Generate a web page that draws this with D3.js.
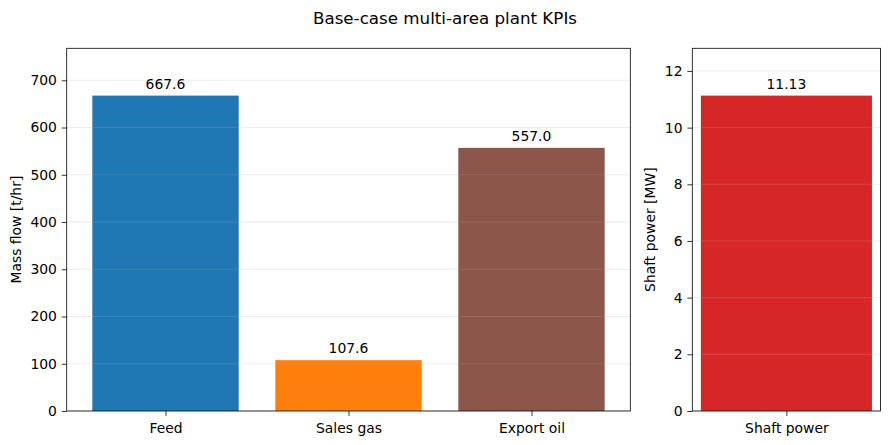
<script src="https://d3js.org/d3.v7.min.js"></script>
<body style="margin:0;background:#fff">
<script>
  // mass flow panel
  const flowCats = ["Feed", "Sales gas", "Export oil"];
  const flowVals = [667.6, 107.6, 557.0];
  const flowColors = ["#1f77b4", "#ff7f0e", "#8c564b"];
  const flowTicks = [0, 100, 200, 300, 400, 500, 600, 700];

  // shaft power panel
  const powerCats = ["Shaft power"];
  const powerVals = [11.13];
  const powerColors = ["#d62728"];
  const powerTicks = [0, 2, 4, 6, 8, 10, 12];

  const W = 889, H = 445;
  const font = "DejaVu Sans, sans-serif";

  const svg = d3.select("body").append("svg")
    .attr("width", W).attr("height", H)
    .style("font-family", font);

  svg.append("text")
    .attr("x", 445).attr("y", 24.3)
    .attr("text-anchor", "middle")
    .attr("font-size", "16.7px")
    .attr("fill", "#000")
    .text("Base-case multi-area plant KPIs");

  function panel(x0, x1, y0, y1, cats, vals, colors, ticks, ylabel, fmt, labelX) {
    const g = svg.append("g");
    // matplotlib-like x range: bars of width 0.8 with 5% margin
    const span = (cats.length - 1) + 0.8;
    const pad = span * 0.05;
    const x = d3.scaleLinear()
      .domain([-0.4 - pad, cats.length - 1 + 0.4 + pad])
      .range([x0, x1]);
    const y = d3.scaleLinear()
      .domain([0, d3.max(vals) * 1.15])
      .range([y1, y0]);

    g.selectAll("rect.bar")
      .data(vals)
      .enter()
      .append("rect")
      .attr("class", "bar")
      .attr("x", (d, i) => x(i - 0.4))
      .attr("width", (d, i) => x(i + 0.4) - x(i - 0.4))
      .attr("y", d => y(d))
      .attr("height", d => y(0) - y(d))
      .attr("fill", (d, i) => colors[i]);

    // grid drawn above the bars, semi transparent
    g.selectAll("line.grid")
      .data(ticks)
      .enter()
      .append("line")
      .attr("x1", x0).attr("x2", x1)
      .attr("y1", d => y(d)).attr("y2", d => y(d))
      .attr("stroke", "#b0b0b0")
      .attr("stroke-opacity", 0.3)
      .attr("stroke-width", 0.8);

    g.selectAll("text.val")
      .data(vals)
      .enter()
      .append("text")
      .attr("x", (d, i) => x(i))
      .attr("y", d => y(d) - 7)
      .attr("text-anchor", "middle")
      .attr("font-size", "13.9px")
      .text(d => fmt(d));

    const yAxis = d3.axisLeft(y).tickValues(ticks).tickSize(4.9).tickPadding(4.9);
    g.append("g")
      .attr("transform", "translate(" + x0 + ",0)")
      .call(yAxis)
      .call(a => a.select(".domain").remove())
      .call(a => a.selectAll("text").attr("font-size", "13.9px").attr("font-family", font).attr("fill", "#000"))
      .call(a => a.selectAll("line").attr("stroke", "#000").attr("stroke-width", 0.8));

    const xAxis = d3.axisBottom(x).tickValues(d3.range(cats.length))
      .tickFormat(i => cats[i]).tickSize(4.9).tickPadding(4.9);
    g.append("g")
      .attr("transform", "translate(0," + y1 + ")")
      .call(xAxis)
      .call(a => a.select(".domain").remove())
      .call(a => a.selectAll("text").attr("font-size", "13.9px").attr("font-family", font)
        .attr("fill", "#000").attr("dy", "0.86em"))
      .call(a => a.selectAll("line").attr("stroke", "#000").attr("stroke-width", 0.8));

    g.append("rect")
      .attr("x", x0).attr("y", y0)
      .attr("width", x1 - x0).attr("height", y1 - y0)
      .attr("fill", "none")
      .attr("stroke", "#000")
      .attr("stroke-width", 0.8);

    g.append("text")
      .attr("transform", "translate(" + labelX + "," + ((y0 + y1) / 2) + ") rotate(-90)")
      .attr("text-anchor", "middle")
      .attr("font-size", "13.9px")
      .text(ylabel);
  }

  panel(66.7, 630.3, 48.3, 411, flowCats, flowVals, flowColors, flowTicks,
    "Mass flow [t/hr]", d3.format(".1f"), 20.5);
  panel(692.3, 880.5, 48.3, 411, powerCats, powerVals, powerColors, powerTicks,
    "Shaft power [MW]", d3.format(".2f"), 655);
</script>
</body>
